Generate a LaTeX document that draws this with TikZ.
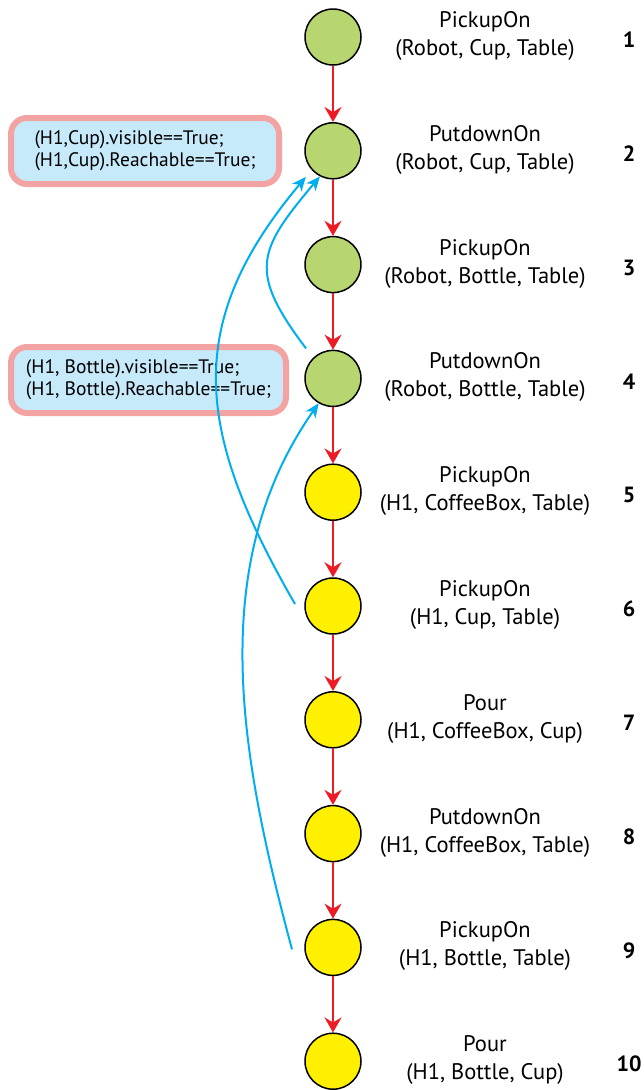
\documentclass[tikz,border=0pt]{standalone}
\usepackage{fontspec}
\setmainfont{PT Sans}
\usetikzlibrary{arrows.meta, positioning}

\definecolor{robotgreen}{RGB}{183,214,112}
\definecolor{humanyellow}{RGB}{255,240,0}
\definecolor{seqred}{RGB}{237,28,36}
\definecolor{linkblue}{RGB}{0,174,239}
\definecolor{condfill}{RGB}{199,234,251}
\definecolor{condrim}{RGB}{244,163,163}

\begin{document}
\begin{tikzpicture}[x=1pt, y=-1pt,
    robot/.style={circle, draw=black, line width=1.5pt, fill=robotgreen,
                  minimum size=56pt, inner sep=0pt},
    human/.style={robot, fill=humanyellow},
    act/.style={align=center, font=\fontsize{22.5}{28}\selectfont},
    num/.style={font=\fontsize{22}{24}\selectfont\bfseries},
    cond/.style={draw=condrim, line width=6pt, fill=condfill, rounded corners=16pt,
                 align=left, minimum height=66pt, inner sep=0pt,
                 font=\fontsize{19.5}{22}\selectfont},
    seq/.style={draw=seqred, line width=2pt, -{Stealth[length=15pt, width=17pt, inset=5pt]}},
    link/.style={draw=linkblue, line width=2pt, -{Stealth[length=14pt, width=12pt, inset=4pt]}}]
  \useasboundingbox (0,0) rectangle (644,1090);

  % action steps
  \foreach \i/\kind/\act/\args in {
      1/robot/PickupOn/{(Robot, Cup, Table)},
      2/robot/PutdownOn/{(Robot, Cup, Table)},
      3/robot/PickupOn/{(Robot, Bottle, Table)},
      4/robot/PutdownOn/{(Robot, Bottle, Table)},
      5/human/PickupOn/{(H1, CoffeeBox, Table)},
      6/human/PickupOn/{(H1, Cup, Table)},
      7/human/Pour/{(H1, CoffeeBox, Cup)},
      8/human/PutdownOn/{(H1, CoffeeBox, Table)},
      9/human/PickupOn/{(H1, Bottle, Table)},
      10/human/Pour/{(H1, Bottle, Cup)}}
  {
    \node[robot, \kind] (n\i) at (333, {37+(\i-1)*113.8}) {};
    \node[act] (a\i) at (485, {36+(\i-1)*113.8}) {\act\\\args};
    \node[num] (k\i) at (629, {40+(\i-1)*113.8}) {\i};
  }

  \foreach \i in {1,...,9} {
    \pgfmathtruncatemacro{\j}{\i+1}
    \draw[seq] (n\i) -- (n\j);
  }

  % conditions
  \node[cond, minimum width=268pt] (c1) at (145,151)
    {(H1,Cup).visible==True;\\(H1,Cup).Reachable==True;};
  \node[cond, minimum width=275pt] (c2) at (148.5,380)
    {(H1, Bottle).visible==True;\\(H1, Bottle).Reachable==True;};

  % dependency links
  \coordinate (t4) at ([xshift=-27pt, yshift=30pt]n4.center);
  \coordinate (t6) at ([xshift=-38pt, yshift=2pt]n6.center);
  \coordinate (t9) at ([xshift=-41pt, yshift=-2pt]n9.center);

  \draw[link, shorten >=9pt] (t6) to[out=120, in=230, looseness=1.18] (n2.222);
  \draw[link] (t4) to[out=127, in=230, looseness=1.44] (n2.243);
  \draw[link] (t9) to[out=105, in=235, looseness=0.93] (n4.240);
\end{tikzpicture}
\end{document}
